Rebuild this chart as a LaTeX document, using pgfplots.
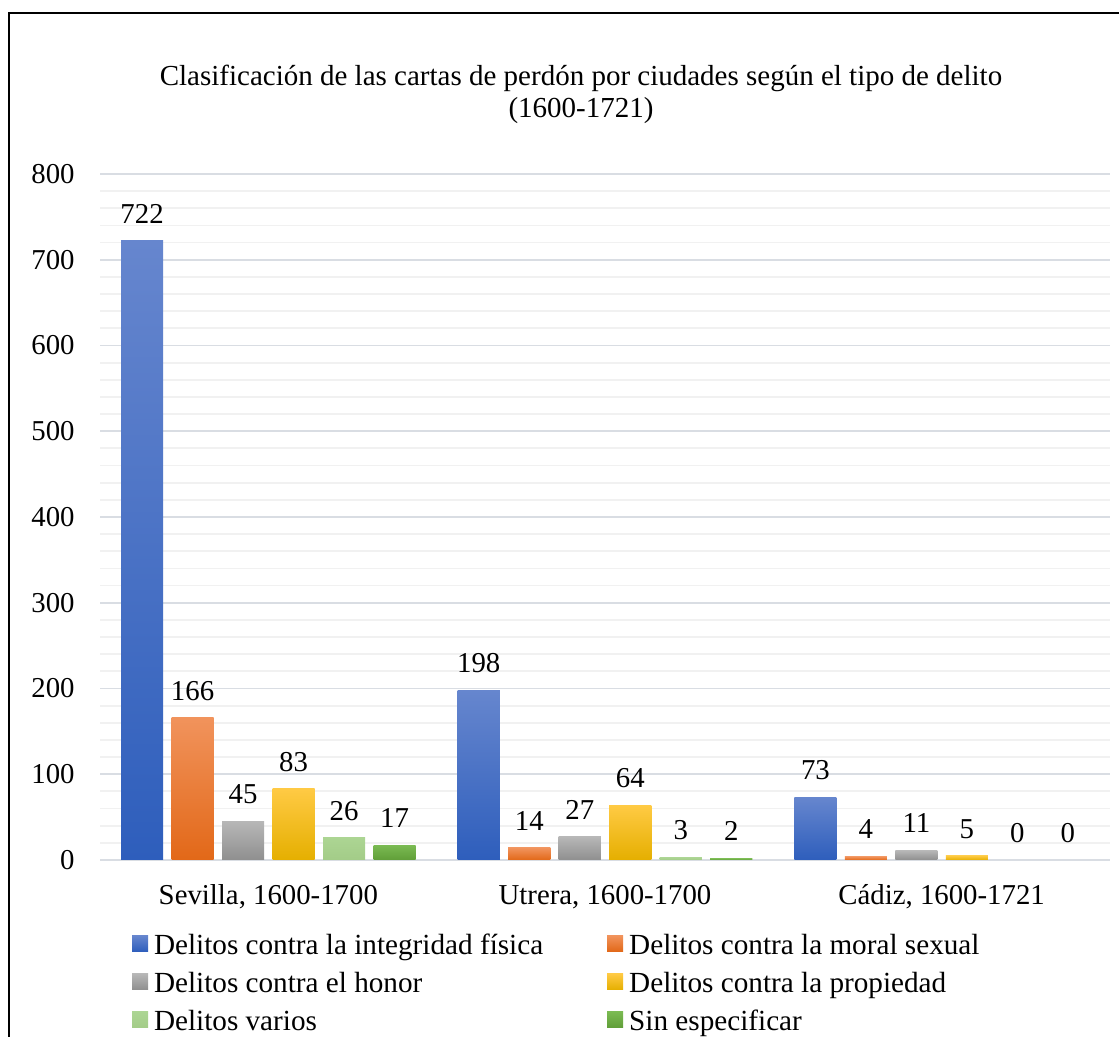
\documentclass[border=0pt]{standalone}
\usepackage{fontspec}
\setmainfont{Liberation Serif}
\usepackage{pgfplots}
\pgfplotsset{compat=1.18}
\definecolor{gmaj}{RGB}{217,221,227}
\definecolor{gmin}{RGB}{241,241,241}
\definecolor{bT}{RGB}{102,134,206}\definecolor{bB}{RGB}{46,94,188}
\definecolor{oT}{RGB}{241,147,92}\definecolor{oB}{RGB}{226,104,24}
\definecolor{gT}{RGB}{183,183,183}\definecolor{gB}{RGB}{143,143,143}
\definecolor{yT}{RGB}{255,202,68}\definecolor{yB}{RGB}{229,175,0}
\definecolor{lT}{RGB}{172,213,147}\definecolor{lB}{RGB}{163,204,136}
\definecolor{vT}{RGB}{122,186,82}\definecolor{vB}{RGB}{96,158,56}
\pgfplotsset{
  barbase/.style={ybar,bar width=0.125,bar shift=0pt,draw=none},
  sA/.style={barbase,top color=bT,bottom color=bB},
  sB/.style={barbase,top color=oT,bottom color=oB},
  sC/.style={barbase,top color=gT,bottom color=gB},
  sD/.style={barbase,top color=yT,bottom color=yB},
  sE/.style={barbase,top color=lT,bottom color=lB},
  sF/.style={barbase,top color=vT,bottom color=vB},
  sZ/.style={barbase,fill=none},
}
\begin{document}
\begin{tikzpicture}[x=1pt,y=1pt]
\useasboundingbox (0,0) rectangle (559.5,518.5);
\draw[line width=1pt] (4.5,-5) -- (4.5,511.85) -- (570,511.85);
\node[font=\fontsize{14.5}{16}\selectfont, align=center] at (290.5,471.5) {Clasificación de las cartas de perdón por ciudades según el tipo de delito\\(1600-1721)};
\begin{axis}[
  at={(50pt,88.5pt)}, anchor=south west,
  scale only axis, width=505pt, height=343pt,
  xmin=-0.5, xmax=2.5, ymin=0, ymax=800,
  clip=false,
  xtick={0,1,2},
  xticklabels={{Sevilla, 1600-1700},{Utrera, 1600-1700},{Cádiz, 1600-1721}},
  ytick={0,100,...,800},
  minor y tick num=4,
  ymajorgrids, yminorgrids,
  major grid style={gmaj, line width=0.9pt},
  minor grid style={gmin, line width=0.9pt},
  axis line style={draw=none},
  major tick length=0pt, minor tick length=0pt,
  tick style={draw=none},
  /pgf/number format/assume math mode=true,
  ticklabel style={font=\fontsize{14.4}{16}\selectfont, text=black},
  yticklabel style={anchor=east, inner xsep=0pt, xshift=-12.5pt},
  xticklabel style={anchor=base, yshift=-22.5pt},
  nodes near coords,
  every node near coord/.append style={font=\fontsize{14.4}{16}\selectfont, text=black, anchor=base, inner sep=0pt, yshift=8.8pt},
  legend columns=2,
  legend cell align=left,
  legend style={at={(0.0317,-0.105)}, anchor=north west, draw=none, fill=none, inner sep=0pt, outer sep=0pt,
    font=\fontsize{14.6}{16}\selectfont,
    nodes={inner sep=0pt, text height=11pt, text depth=3.5pt},
    row sep=4.6pt,
    /tikz/every odd column/.append style={column sep=3pt},
    /tikz/every even column/.append style={column sep=32pt}},
  legend image code/.code={\path[#1,draw=none] (0pt,-2.5pt) rectangle (8pt,5.5pt);},
]
% Sevilla, 1600-1700
\addplot[sA] coordinates {(-0.375,722)}; \addlegendentry{Delitos contra la integridad física}
\addplot[sB] coordinates {(-0.225,166)}; \addlegendentry{Delitos contra la moral sexual}
\addplot[sC] coordinates {(-0.075,45)};  \addlegendentry{Delitos contra el honor}
\addplot[sD] coordinates {(0.075,83)};   \addlegendentry{Delitos contra la propiedad}
\addplot[sE] coordinates {(0.225,26)};   \addlegendentry{Delitos varios}
\addplot[sF] coordinates {(0.375,17)};   \addlegendentry{Sin especificar}
% Utrera, 1600-1700
\addplot[sA,forget plot] coordinates {(0.625,198)};
\addplot[sB,forget plot] coordinates {(0.775,14)};
\addplot[sC,forget plot] coordinates {(0.925,27)};
\addplot[sD,forget plot] coordinates {(1.075,64)};
\addplot[sE,forget plot] coordinates {(1.225,3)};
\addplot[sF,forget plot] coordinates {(1.375,2)};
% Cadiz, 1600-1721
\addplot[sA,forget plot] coordinates {(1.625,73)};
\addplot[sB,forget plot] coordinates {(1.775,4)};
\addplot[sC,forget plot] coordinates {(1.925,11)};
\addplot[sD,forget plot] coordinates {(2.075,5)};
\addplot[sZ,forget plot] coordinates {(2.225,0)};
\addplot[sZ,forget plot] coordinates {(2.375,0)};
\end{axis}
\end{tikzpicture}
\end{document}
